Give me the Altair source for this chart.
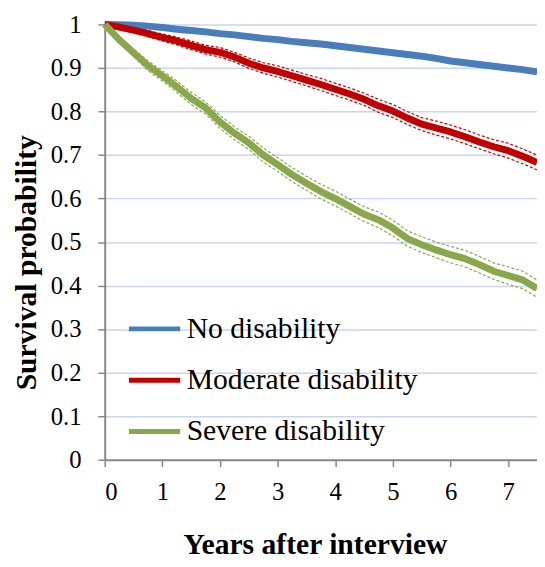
import altair as alt
import pandas as pd

times = [0, 0.25, 0.5, 0.75, 1, 1.25, 1.5, 1.75, 2, 2.25, 2.5, 2.75, 3, 3.25, 3.5, 3.75,
         4, 4.25, 4.5, 4.75, 5, 5.25, 5.5, 5.75, 6, 6.25, 6.5, 6.75, 7, 7.25, 7.5]

groups = ["No disability", "Moderate disability", "Severe disability"]
colors = ["#4a7ebb", "#c00000", "#8aa84b"]

no_est = [1.000, 0.9995, 0.998, 0.996, 0.993, 0.989, 0.986, 0.983, 0.979, 0.976, 0.972, 0.968,
          0.965, 0.961, 0.958, 0.955, 0.951, 0.947, 0.943, 0.939, 0.935, 0.931, 0.927, 0.922,
          0.916, 0.912, 0.908, 0.904, 0.900, 0.896, 0.891]
no_lo = [1.000, 0.999, 0.997, 0.994, 0.991, 0.987, 0.984, 0.981, 0.977, 0.973, 0.969, 0.965,
         0.962, 0.958, 0.955, 0.952, 0.948, 0.944, 0.940, 0.936, 0.932, 0.928, 0.924, 0.918,
         0.912, 0.908, 0.904, 0.900, 0.896, 0.892, 0.887]
no_hi = [1.000, 1.000, 0.999, 0.998, 0.995, 0.991, 0.988, 0.985, 0.981, 0.979, 0.975, 0.971,
         0.968, 0.964, 0.961, 0.958, 0.954, 0.950, 0.946, 0.942, 0.938, 0.934, 0.930, 0.926,
         0.920, 0.916, 0.912, 0.908, 0.904, 0.900, 0.895]

mod_est = [1.000, 0.994, 0.987, 0.979, 0.970, 0.962, 0.952, 0.942, 0.936, 0.925, 0.911, 0.900,
           0.892, 0.882, 0.872, 0.862, 0.851, 0.840, 0.828, 0.813, 0.801, 0.785, 0.771, 0.762,
           0.753, 0.742, 0.730, 0.719, 0.710, 0.697, 0.683]
mod_lo = [1.000, 0.990, 0.981, 0.972, 0.962, 0.953, 0.942, 0.932, 0.925, 0.914, 0.899, 0.888,
          0.879, 0.869, 0.859, 0.848, 0.837, 0.826, 0.814, 0.798, 0.786, 0.770, 0.756, 0.746,
          0.737, 0.726, 0.714, 0.703, 0.693, 0.680, 0.666]
mod_hi = [1.000, 0.998, 0.993, 0.986, 0.978, 0.971, 0.962, 0.952, 0.947, 0.936, 0.923, 0.912,
          0.905, 0.895, 0.885, 0.876, 0.865, 0.854, 0.842, 0.828, 0.816, 0.800, 0.786, 0.778,
          0.769, 0.758, 0.746, 0.735, 0.727, 0.714, 0.700]

sev_est = [1.000, 0.965, 0.935, 0.905, 0.882, 0.857, 0.830, 0.808, 0.776, 0.750, 0.728, 0.700,
           0.678, 0.655, 0.635, 0.616, 0.600, 0.582, 0.564, 0.551, 0.532, 0.508, 0.494, 0.482,
           0.471, 0.462, 0.448, 0.433, 0.423, 0.413, 0.393]
sev_lo = [1.000, 0.959, 0.926, 0.894, 0.870, 0.844, 0.816, 0.794, 0.761, 0.735, 0.713, 0.684,
          0.662, 0.639, 0.619, 0.599, 0.583, 0.565, 0.547, 0.533, 0.514, 0.490, 0.476, 0.464,
          0.452, 0.443, 0.429, 0.414, 0.403, 0.393, 0.373]
sev_hi = [1.000, 0.971, 0.944, 0.916, 0.894, 0.870, 0.844, 0.822, 0.791, 0.765, 0.743, 0.716,
          0.694, 0.671, 0.651, 0.633, 0.617, 0.599, 0.581, 0.569, 0.550, 0.526, 0.512, 0.500,
          0.490, 0.481, 0.467, 0.452, 0.443, 0.433, 0.413]

x_ticks = [0, 1, 2, 3, 4, 5, 6, 7]
y_ticks = [0, 0.1, 0.2, 0.3, 0.4, 0.5, 0.6, 0.7, 0.8, 0.9, 1]

series = [(groups[0], no_est, no_lo, no_hi),
          (groups[1], mod_est, mod_lo, mod_hi),
          (groups[2], sev_est, sev_lo, sev_hi)]
rows = []
for g, est, lo, hi in series:
    for t, e, l, h in zip(times, est, lo, hi):
        rows.append({"t": t, "group": g, "est": e, "lo": l, "hi": h})
df = pd.DataFrame(rows)

FONT = "Liberation Serif"
AX = "#888888"

x_axis = alt.Axis(values=x_ticks, title="Years after interview", grid=False,
                  titleFontSize=30, titleFontWeight="bold", titleFont=FONT,
                  titleX=213, titleY=95, titleAlign="center", titleBaseline="alphabetic",
                  labelFont=FONT, labelFontSize=25, labelPadding=13, tickSize=7,
                  labelColor="black", titleColor="black",
                  domainColor=AX, domainWidth=2, tickColor=AX, tickWidth=1.5)
y_axis = alt.Axis(values=y_ticks, format="~g", title="Survival probability", grid=True,
                  titleFontSize=30, titleFontWeight="bold", titleFont=FONT,
                  titleX=-70, titleY=241, titleAngle=-90, titleAlign="center",
                  titleBaseline="alphabetic",
                  labelFont=FONT, labelFontSize=25, labelPadding=17, tickSize=7,
                  labelColor="black", titleColor="black",
                  domainColor=AX, domainWidth=2, tickColor=AX, tickWidth=1.5,
                  gridColor="#c9d6ec", gridWidth=1.5)

x_enc = alt.X("t:Q", scale=alt.Scale(domain=[0, 7.5], nice=False), axis=x_axis)
color_enc = alt.Color("group:N", scale=alt.Scale(domain=groups, range=colors),
                      legend=alt.Legend(title=None, orient="none", legendX=22, legendY=280,
                                        symbolType="stroke", symbolSize=2704,
                                        symbolStrokeWidth=5, labelFontSize=30,
                                        labelFont=FONT, labelColor="black", labelLimit=500,
                                        labelOffset=4, rowPadding=8, padding=0))

ci = alt.Chart(df).transform_fold(["lo", "hi"], as_=["bound", "value"]).mark_line(
    strokeWidth=1.2, strokeDash=[3, 2]
).encode(
    x=x_enc,
    y=alt.Y("value:Q", scale=alt.Scale(domain=[0, 1], nice=False), axis=y_axis),
    color=color_enc,
    detail="bound:N",
    order="t:Q",
)

main = alt.Chart(df).mark_line(strokeWidth=7, strokeCap="butt", strokeJoin="round").encode(
    x=x_enc,
    y=alt.Y("est:Q", scale=alt.Scale(domain=[0, 1], nice=False), axis=y_axis),
    color=color_enc,
    order="t:Q",
)

chart = alt.layer(ci, main).properties(
    width=438, height=441,
    background="white",
    autosize=alt.AutoSizeParams(type="none"),
    padding={"left": 98, "top": 13, "right": 0, "bottom": 97},
).configure(font=FONT).configure_view(stroke=None)

chart.save("out.html", embed_options={"renderer": "svg", "actions": False})
